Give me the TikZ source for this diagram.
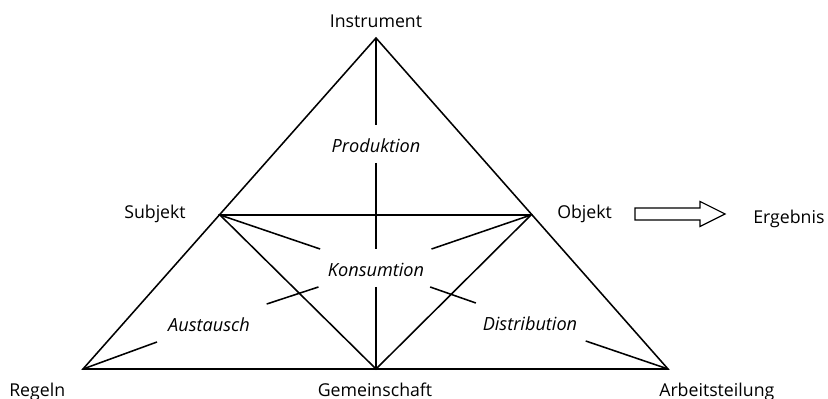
\documentclass[tikz,border=0pt]{standalone}
\usepackage{fontspec}
\setmainfont{Open Sans}
\usetikzlibrary{calc, positioning}

\begin{document}
\begin{tikzpicture}[x=0.025cm, y=-0.025cm]
	\tikzstyle{ecke} = [inner sep=0pt, font=\fontsize{12.6}{15}\selectfont]
	\tikzstyle{prozess} = [inner xsep=12pt, inner ysep=7.8pt, outer sep=0pt, text height=11.4pt, text depth=0pt, font=\fontsize{12.9}{15}\selectfont\itshape]
	\tikzstyle{strich} = [draw, line width=1.1pt]

	\useasboundingbox (0,0) rectangle (828,399);

	% corners of the triangle
	\coordinate (inst) at (376,38);
	\coordinate (subj) at (220,215);
	\coordinate (obj)  at (531,215);
	\coordinate (reg)  at (83,369);
	\coordinate (gem)  at (376,369);
	\coordinate (arb)  at (668,369);

	% corner labels
	\node[ecke, anchor=base]      (inst text) at (376,28)  {Instrument};
	\node[ecke, anchor=base east] (subj text) at (186,219) {Subjekt};
	\node[ecke, anchor=base west] (obj text)  at (557,219) {Objekt};
	\node[ecke, anchor=base west] (erg)       at (753,224) {Ergebnis};
	\node[ecke, anchor=base west] (reg text)  at (9,396)   {Regeln};
	\node[ecke, anchor=base]      (gem text)  at (375,396) {Gemeinschaft};
	\node[ecke, anchor=base west] (arb text)  at (659,396) {Arbeitsteilung};

	% processes inside
	\node[prozess] (prod) at (376,144) {Produktion};
	\node[prozess] (kons) at (376,268) {Konsumtion};
	\node[prozess] (aust) at (209,323) {Austausch};
	\node[prozess] (dist) at (530,322) {Distribution};

	% outer and inner triangles
	\path[strich] (inst) -- (reg) -- (arb) -- cycle;
	\path[strich] (subj) -- (obj) -- (gem) -- cycle;

	% broken lines through the middle
	\path[strich] (inst) -- (prod);
	\path[strich] (prod) -- (kons);
	\path[strich] (kons) -- (gem);
	\path[strich] (subj) -- (kons);
	\path[strich] (kons) -- (dist);
	\path[strich] (dist) -- (arb);
	\path[strich] (obj) -- (kons);
	\path[strich] (kons) -- (aust);
	\path[strich] (aust) -- (reg);

	% outlined arrow to the result
	\coordinate (pfeil start) at (635,214);
	\coordinate (pfeil spitze) at (725,214);
	\path[draw, line width=0.8pt] (pfeil start) ++(0,-6) -- ++(65,0) -- ++(0,-6.5) -- (pfeil spitze) -- ++(-25,12.5) -- ++(0,-6.5) -- ++(-65,0) -- cycle;
\end{tikzpicture}
\end{document}
